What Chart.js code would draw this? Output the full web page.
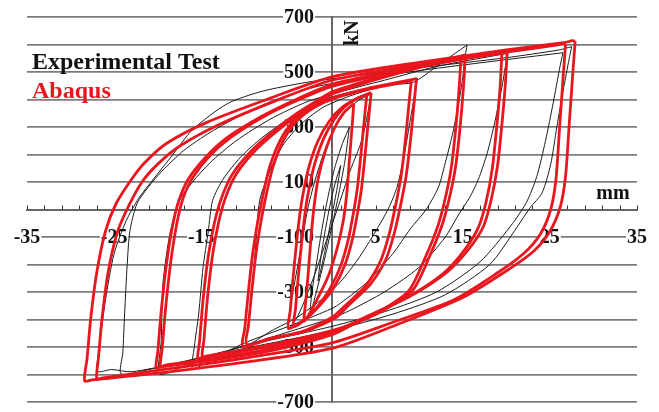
<!DOCTYPE html>
<html>
<head>
<meta charset="utf-8">
<title>Hysteresis loops: Experimental Test vs Abaqus</title>
<script src="https://cdn.jsdelivr.net/npm/chart.js@4/dist/chart.umd.min.js"></script>
<style>
  html, body { margin: 0; padding: 0; background: #ffffff; }
  canvas { display: block; }
</style>
</head>
<body>
<canvas id="chart" width="659" height="412"></canvas>
<script>
// ---- Abaqus cycles: [displacement mm, force kN], from positive peak round the loop ----
const abaqus28a = [[27.9,612],[27.6,480],[27.2,300],[26.8,120],[26.2,10],[25.0,-80],[23.2,-150],[20.4,-215],[15,-320],[7.5,-418],[0,-505],[-10,-555],[-20,-595],[-27.6,-620],[-28.4,-623],
  [-28.1,-540],[-27.7,-400],[-27,-230],[-26,-80],[-24.8,20],[-23,110],[-21.5,170],[-19,240],[-14.5,315],[-7.5,400],[0,482],[10,535],[20,580],[26.8,608],[27.6,614],[27.9,612]];
const abaqus28b = [[26.8,602],[26.5,470],[26.1,290],[25.7,110],[25.1,0],[23.9,-90],[22,-160],[19,-230],[14,-328],[7,-410],[0,-485],[-10,-540],[-20,-585],[-26.3,-612],[-27,-616],
  [-26.8,-540],[-26.4,-400],[-25.7,-230],[-24.6,-80],[-23.3,15],[-21.8,100],[-20,165],[-17.5,230],[-13,308],[-6.5,395],[0,470],[10,527],[20,572],[25.9,599],[26.5,604],[26.8,602]];
const abaqus20a = [[20.1,576],[19.9,460],[19.5,310],[19.0,160],[18.3,40],[17.4,-60],[15.8,-140],[13.3,-225],[9,-315],[4,-390],[0,-455],[-8,-520],[-15,-553],[-19.6,-572],[-20.2,-576],
  [-20.0,-520],[-19.6,-370],[-19.0,-200],[-18.3,-60],[-17.6,30],[-16.5,110],[-14.5,190],[-12,262],[-8,340],[-4,402],[0,455],[8,510],[15,552],[19.4,572],[20.1,576]];
const abaqus20b = [[19.5,570],[19.3,450],[18.9,300],[18.4,150],[17.7,30],[16.8,-65],[15.2,-148],[12.8,-232],[8.5,-322],[3.5,-396],[0,-448],[-8,-512],[-15,-548],[-19.1,-566],[-19.7,-570],
  [-19.5,-510],[-19.1,-360],[-18.5,-190],[-17.8,-50],[-17.1,40],[-16,115],[-14,196],[-11.5,265],[-7.5,344],[-3.5,404],[0,448],[8,505],[15,547],[18.9,566],[19.5,570]];
const abaqus15a = [[15.3,562],[15.1,450],[14.7,300],[14.2,160],[13.6,60],[12.7,-50],[11.2,-170],[9.3,-292],[6,-365],[3,-410],[0,-445],[-6,-490],[-11,-520],[-14.8,-538],[-15.4,-542],
  [-15.2,-480],[-14.8,-330],[-14.2,-170],[-13.5,-50],[-12.7,40],[-11.5,125],[-9.5,205],[-7,278],[-4,350],[-1,410],[0,428],[5,478],[10,522],[14.6,556],[15.3,562]];
const abaqus15b = [[14.8,556],[14.6,445],[14.2,295],[13.7,155],[13.1,55],[12.2,-55],[10.7,-175],[8.8,-296],[5.5,-370],[2.5,-414],[0,-440],[-6,-485],[-11,-515],[-14.3,-532],[-14.9,-536],
  [-14.7,-475],[-14.3,-325],[-13.7,-165],[-13,-45],[-12.2,45],[-11,128],[-9,208],[-6.5,280],[-3.5,352],[-0.5,410],[0,420],[5,472],[10,516],[14.1,550],[14.8,556]];
const abaqus10a = [[9.7,476],[9.4,380],[9.0,250],[8.5,120],[7.9,20],[7.2,-80],[6.2,-180],[4.4,-272],[2,-345],[0.5,-392],[-3,-442],[-7,-470],[-10.2,-497],
  [-10.0,-430],[-9.6,-300],[-9.1,-160],[-8.5,-40],[-8,40],[-7.2,150],[-6,248],[-4.5,318],[-2.5,368],[0,405],[4,440],[7.5,462],[9.7,476]];
const abaqus10b = [[9.1,468],[8.8,375],[8.4,245],[7.9,115],[7.3,15],[6.6,-85],[5.6,-185],[3.9,-276],[1.5,-350],[0,-392],[-3.5,-445],[-7,-468],[-9.8,-490],
  [-9.6,-425],[-9.2,-295],[-8.7,-155],[-8.1,-35],[-7.6,45],[-6.8,152],[-5.6,250],[-4.1,320],[-2.1,370],[0.4,406],[4,436],[7,455],[9.1,468]];
const abaqus5a = [[4.5,425],[4.2,330],[3.8,200],[3.4,80],[3.0,0],[2.4,-100],[1.5,-200],[0.1,-290],[-1.5,-352],[-3,-398],[-5,-433],
  [-4.8,-370],[-4.5,-260],[-4.1,-130],[-3.7,-20],[-3.3,60],[-2.6,160],[-1.6,250],[-0.3,322],[1.2,372],[3,406],[4.5,425]];
const abaqus5b = [[4.0,418],[3.7,325],[3.3,195],[2.9,75],[2.5,-5],[1.9,-105],[1,-205],[-0.3,-292],[-1.6,-350],[-2.9,-395],[-4.4,-426],
  [-4.2,-365],[-3.9,-255],[-3.5,-125],[-3.1,-15],[-2.7,65],[-2,165],[-1,255],[0.2,325],[1.4,372],[2.8,402],[4.0,418]];
const abaqus3 = [[2.5,385],[2.3,300],[2,180],[1.7,60],[1.3,-40],[0.6,-140],[-0.4,-240],[-1.6,-320],[-2.6,-380],[-3.2,-405],
  [-3.0,-330],[-2.7,-220],[-2.4,-100],[-2.1,0],[-1.6,110],[-0.8,210],[0.2,290],[1.3,350],[2.5,385]];

// ---- Experimental test cycles ----
const test27a = [[27.5,592],[27.2,545],[26.6,445],[25.8,300],[25.1,165],[24.1,60],[22.7,5],[21,-75],[18.1,-200],[13,-310],[7,-380],[0,-440],[-10,-505],[-18,-560],[-23,-590],[-25.3,-582],[-26.9,-588],
  [-26.7,-500],[-26,-330],[-25,-160],[-23.6,-40],[-22.2,40],[-20.5,110],[-18.5,190],[-16,290],[-12,385],[-8,430],[-3,462],[0,475],[10,515],[20,552],[26,580],[27.5,592]];
const test27b = [[26.5,570],[26.1,510],[25.4,390],[24.5,250],[23.5,120],[22.3,25],[20.5,-60],[17,-190],[12,-300],[6,-372],[0,-425],[-8,-482],[-16,-545],[-21,-582],[-24.2,-598],
  [-24.0,-520],[-23.8,-380],[-23.5,-200],[-23.2,-80],[-22.4,20],[-21,85],[-19.5,140],[-17,215],[-14,280],[-10,350],[-6,405],[-2,445],[0,458],[10,505],[20,545],[26.5,570]];
const test20 = [[20.2,568],[19.9,520],[19.5,445],[18.7,320],[17.8,204],[16.8,110],[15.8,44],[14.5,-20],[13,-100],[10,-210],[6,-300],[2,-368],[0,-395],[-6,-455],[-12,-515],[-17,-570],[-19.8,-598],
  [-19.6,-480],[-19.4,-270],[-18.6,-88],[-17.5,33],[-16,100],[-14,170],[-11,250],[-7,330],[-3,390],[0,420],[6,470],[12,520],[17,550],[20.2,568]];
const test15 = [[15.5,598],[15.3,560],[15,480],[14.5,380],[13.8,270],[13,170],[12.2,80],[10.8,0],[9,-70],[7,-160],[4,-265],[1,-340],[0,-360],[-5,-425],[-10,-485],[-14,-548],[-16,-580],
  [-15.8,-500],[-15.3,-380],[-14.8,-211],[-14.2,-80],[-13.7,33],[-12.5,110],[-10.5,190],[-8,262],[-5,330],[-2,385],[0,410],[4,440],[7,455],[9.3,462],[12,520],[14,565],[15.5,598]];
const test10 = [[9.8,478],[9.5,420],[9,330],[8.3,200],[7.5,85],[6.5,5],[5,-80],[3,-180],[1,-262],[-1,-322],[-4,-392],[-7,-442],[-9.8,-492],
  [-9.6,-420],[-9.2,-300],[-8.8,-150],[-8.3,33],[-7,150],[-5.5,240],[-3.5,312],[-1,372],[2,412],[5,442],[8,464],[9.8,478]];
const test5 = [[4.5,420],[4.1,350],[3.4,250],[2.1,142],[0.6,0],[-0.5,-100],[-1.8,-220],[-3,-320],[-4,-392],[-5,-432],
  [-4.8,-360],[-4.2,-250],[-3.5,-130],[-2.8,0],[-2,100],[-1,200],[0.2,290],[1.5,352],[3,396],[4.5,420]];
const test2 = [[2,300],[1.5,180],[0.8,60],[0,-60],[-1,-200],[-1.8,-300],[-2.5,-380],
  [-2.3,-300],[-1.8,-200],[-1.2,-80],[-0.5,40],[0.3,150],[1.2,240],[2,300]];
const test1 = [[1,160],[0.6,80],[0,-20],[-0.8,-150],[-1.6,-260],
  [-1.3,-180],[-0.8,-80],[-0.2,20],[0.4,100],[1,160]];

const abaqusLoops = [abaqus28a, abaqus28b, abaqus20a, abaqus20b, abaqus15a, abaqus15b, abaqus10a, abaqus10b, abaqus5a, abaqus5b, abaqus3];
const testLoops = [test27a, test27b, test20, test15, test10, test5, test2, test1];

// ---- axis labels ----
const xTickLabels = [-35, -25, -15, -5, 5, 15, 25, 35];
const yTickLabels = [700, 500, 300, 100, -100, -300, -500, -700];
const seriesNames = ['Experimental Test', 'Abaqus'];
const xUnit = 'mm';
const yUnit = 'kN';

const SERIF = '"Liberation Serif", "Times New Roman", serif';
const RED = '#e8161e';
const BLACK = '#1c1c1c';
const AXIS_GREY = '#666666';

function loopDataset(points, name, color, width, order) {
  return {
    label: name,
    data: points,
    showLine: true,
    fill: false,
    borderColor: color,
    borderWidth: width,
    pointRadius: 0,
    pointHoverRadius: 0,
    tension: 0.25,
    order: order
  };
}

const datasets = [
  ...abaqusLoops.map(l => loopDataset(l, seriesNames[1], RED, 2.8, 0)),
  ...testLoops.map(l => loopDataset(l, seriesNames[0], BLACK, 1, 1))
];

// series names, unit captions, force labels and minor ticks on the displacement axis
const captions = {
  id: 'captions',
  beforeDatasetsDraw(chart) {
    const ctx = chart.ctx;
    const xs = chart.scales.x;
    const ys = chart.scales.y;
    const x0 = xs.getPixelForValue(0);
    const y0 = ys.getPixelForValue(0);
    ctx.save();

    // small tick marks sitting on top of the displacement axis
    ctx.strokeStyle = '#333333';
    ctx.lineWidth = 1;
    ctx.beginPath();
    xs.ticks.forEach(t => {
      const px = Math.round(xs.getPixelForValue(t.value)) + 0.5;
      ctx.moveTo(px, y0 - 4);
      ctx.lineTo(px, y0);
    });
    ctx.stroke();

    // force labels left of the vertical axis, on a white ground
    ctx.font = 'bold 20px ' + SERIF;
    ctx.textAlign = 'right';
    ctx.textBaseline = 'middle';
    yTickLabels.forEach(v => {
      const py = ys.getPixelForValue(v);
      const s = String(v);
      const w = ctx.measureText(s).width;
      const right = x0 - 18;
      ctx.fillStyle = '#ffffff';
      ctx.fillRect(right - w - 1, py - 8, w + 2, 16);
      ctx.fillStyle = '#111111';
      ctx.fillText(s, right, py + 1);
    });

    ctx.font = 'bold 24px ' + SERIF;
    ctx.textAlign = 'left';
    ctx.textBaseline = 'alphabetic';
    ctx.fillStyle = '#111111';
    ctx.fillText(seriesNames[0], 32, 69);
    ctx.fillStyle = RED;
    ctx.fillText(seriesNames[1], 32, 98);

    ctx.font = 'bold 20px ' + SERIF;
    ctx.fillStyle = '#111111';
    ctx.textAlign = 'center';
    ctx.textBaseline = 'middle';
    ctx.fillText(xUnit, chart.chartArea.right - 24, y0 - 16);
    ctx.translate(x0 + 21, chart.chartArea.top + 16);
    ctx.rotate(-Math.PI / 2);
    ctx.fillText(yUnit, 0, 0);
    ctx.restore();
  }
};

const tickFont = { family: SERIF, size: 20, weight: 'bold' };

new Chart(document.getElementById('chart'), {
  type: 'scatter',
  data: { datasets },
  options: {
    responsive: false,
    animation: false,
    devicePixelRatio: 1,
    layout: { padding: { left: 27, right: 22, top: 17, bottom: 10 } },
    plugins: { legend: { display: false }, tooltip: { enabled: false } },
    scales: {
      x: {
        type: 'linear',
        min: -35,
        max: 35,
        position: { y: 0 },
        afterBuildTicks: axis => {
          const t = [];
          for (let v = -35; v <= 35; v += 2) t.push({ value: v });
          axis.ticks = t;
        },
        ticks: {
          autoSkip: false,
          maxRotation: 0,
          color: '#111111',
          font: tickFont,
          padding: 0,
          callback: v => xTickLabels.includes(v) ? String(v) : '',
          showLabelBackdrop: true,
          backdropColor: c => (c.tick && xTickLabels.includes(c.tick.value)) ? '#ffffff' : 'rgba(0,0,0,0)',
          backdropPadding: { top: 0, bottom: 0, left: 1, right: 1 }
        },
        // invisible tick marks only set the gap between the axis line and its labels
        grid: { display: true, drawOnChartArea: false, drawTicks: true, tickLength: 16, tickColor: 'rgba(0,0,0,0)', color: 'rgba(0,0,0,0)' },
        border: { display: true, color: AXIS_GREY, width: 2 }
      },
      y: {
        type: 'linear',
        min: -700,
        max: 700,
        position: { x: 0 },
        afterBuildTicks: axis => {
          const t = [];
          for (let v = -700; v <= 700; v += 100) t.push({ value: v });
          axis.ticks = t;
        },
        ticks: { display: false },
        grid: { display: true, drawOnChartArea: true, drawTicks: false, color: '#7c7c7c', lineWidth: 1.8 },
        border: { display: true, color: AXIS_GREY, width: 2 }
      }
    }
  },
  plugins: [captions]
});
</script>
</body>
</html>
